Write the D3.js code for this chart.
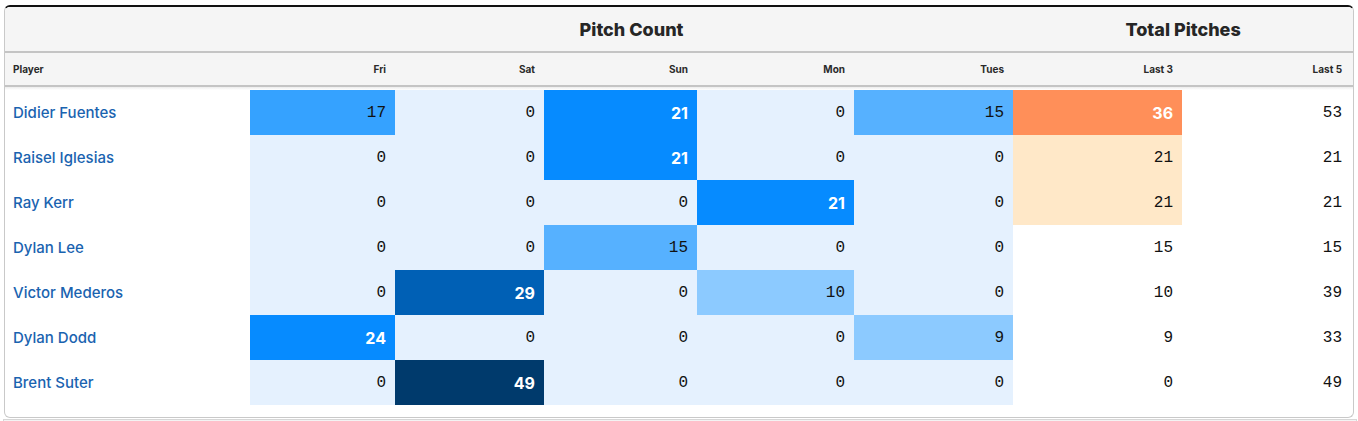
<!DOCTYPE html>
<html lang="en">
  <head>
    <meta charset="utf-8" />
    <title>Pitch Count</title>
    <script src="https://d3js.org/d3.v7.min.js"></script>
    <style>
      body {
        margin: 0;
        background: #fff;
        font-family: Inter, "Noto Sans", sans-serif;
        width: 1358px;
        height: 421px;
        overflow: hidden;
        position: relative;
      }
      #card {
        position: absolute;
        left: 4px;
        top: 5px;
        width: 1350px;
        height: 413px;
        box-sizing: border-box;
        border: 1px solid #c9c9c9;
        border-top: 2px solid #111;
        border-radius: 6px;
        overflow: hidden;
        background: #fff;
      }
      #below {
        position: absolute;
        left: 3px;
        top: 419px;
        width: 1352px;
        height: 10px;
        background: #f3f3f3;
        border: 1px solid #d6d6d6;
      }
      table {
        border-collapse: collapse;
        border-spacing: 0;
        table-layout: fixed;
        width: 1348px;
      }
      th, td { padding: 0; }
      .group th {
        height: 44px;
        background: #f5f5f5;
        border-bottom: 2px solid #c4c4c4;
        font-weight: 800;
        font-size: 18px;
        color: #262626;
        text-align: center;
      }
      .cols th {
        height: 32px;
        background: #f5f5f5;
        border-bottom: 2px solid #c4c4c4;
        font-weight: 700;
        font-size: 10px;
        color: #2a2a2a;
        text-align: right;
        padding-right: 9px;
      }
      .cols th.player {
        text-align: left;
        padding-left: 8px;
      }
      .cols th.last { padding-right: 11px; }
      .spacer td {
        height: 3px;
        background: linear-gradient(#ececec, #fff);
      }
      tbody td {
        height: 45px;
        text-align: right;
        padding-right: 9px;
        font-family: "Liberation Mono", monospace;
        font-size: 16px;
        color: #111;
      }
      tbody td.last { padding-right: 11px; }
      tbody td.light {
        font-family: Inter, "Noto Sans", sans-serif;
        font-weight: 700;
        color: #fff;
      }
      tbody td.player {
        text-align: left;
        padding-left: 8px;
        font-family: Inter, "Noto Sans", sans-serif;
        font-weight: 500;
        font-size: 15px;
        color: #1a63b0;
      }
    </style>
  </head>
  <body>
    <div id="card"></div>
    <div id="below"></div>
    <script>
      const players = ["Didier Fuentes", "Raisel Iglesias", "Ray Kerr", "Dylan Lee", "Victor Mederos", "Dylan Dodd", "Brent Suter"];
      const days = ["Fri", "Sat", "Sun", "Mon", "Tues"];
      const fri = [17, 0, 0, 0, 0, 24, 0];
      const sat = [0, 0, 0, 0, 29, 0, 49];
      const sun = [21, 21, 0, 15, 0, 0, 0];
      const mon = [0, 0, 21, 0, 10, 0, 0];
      const tues = [15, 0, 0, 0, 0, 9, 0];
      const last3 = [36, 21, 21, 15, 10, 9, 0];
      const last5 = [53, 21, 21, 15, 39, 33, 49];
      const totals = ["Last 3", "Last 5"];

      const dayValues = [fri, sat, sun, mon, tues];
      const colWidths = [245, 145, 149, 153, 157, 159, 169, 171];

      // pitch count shading
      const blue = d3
        .scaleThreshold()
        .domain([1, 12, 16, 20, 27, 40])
        .range(["#e5f1fe", "#8ccaff", "#56b1ff", "#35a2ff", "#068bff", "#0060b5", "#003a6c"]);
      // last 3 shading
      const warm = d3
        .scaleThreshold()
        .domain([20, 30])
        .range(["#ffffff", "#ffe8c8", "#ff8f59"]);

      const table = d3.select("#card").append("table");
      table
        .append("colgroup")
        .selectAll("col")
        .data(colWidths)
        .join("col")
        .style("width", (d) => d + "px");

      const thead = table.append("thead");
      const g = thead.append("tr").attr("class", "group");
      g.append("th");
      g.append("th").attr("colspan", days.length).text("Pitch Count");
      g.append("th").attr("colspan", totals.length).text("Total Pitches");

      thead
        .append("tr")
        .attr("class", "cols")
        .selectAll("th")
        .data(["Player", ...days, ...totals])
        .join("th")
        .attr("class", (d, i) => (i === 0 ? "player" : i === 7 ? "last" : null))
        .text((d) => d);

      const tbody = table.append("tbody");
      tbody.append("tr").attr("class", "spacer").append("td").attr("colspan", 8);

      const rows = tbody.selectAll("tr.row").data(players).join("tr").attr("class", "row");

      rows.each(function (name, r) {
        const tr = d3.select(this);
        tr.append("td").attr("class", "player").text(name);
        dayValues.forEach((vals) => {
          const v = vals[r];
          tr.append("td")
            .classed("light", v >= 21)
            .style("background", blue(v))
            .text(v);
        });
        const l3 = last3[r];
        tr.append("td")
          .classed("light", l3 >= 30)
          .style("background", warm(l3))
          .text(l3);
        tr.append("td").attr("class", "last").text(last5[r]);
      });
    </script>
  </body>
</html>
